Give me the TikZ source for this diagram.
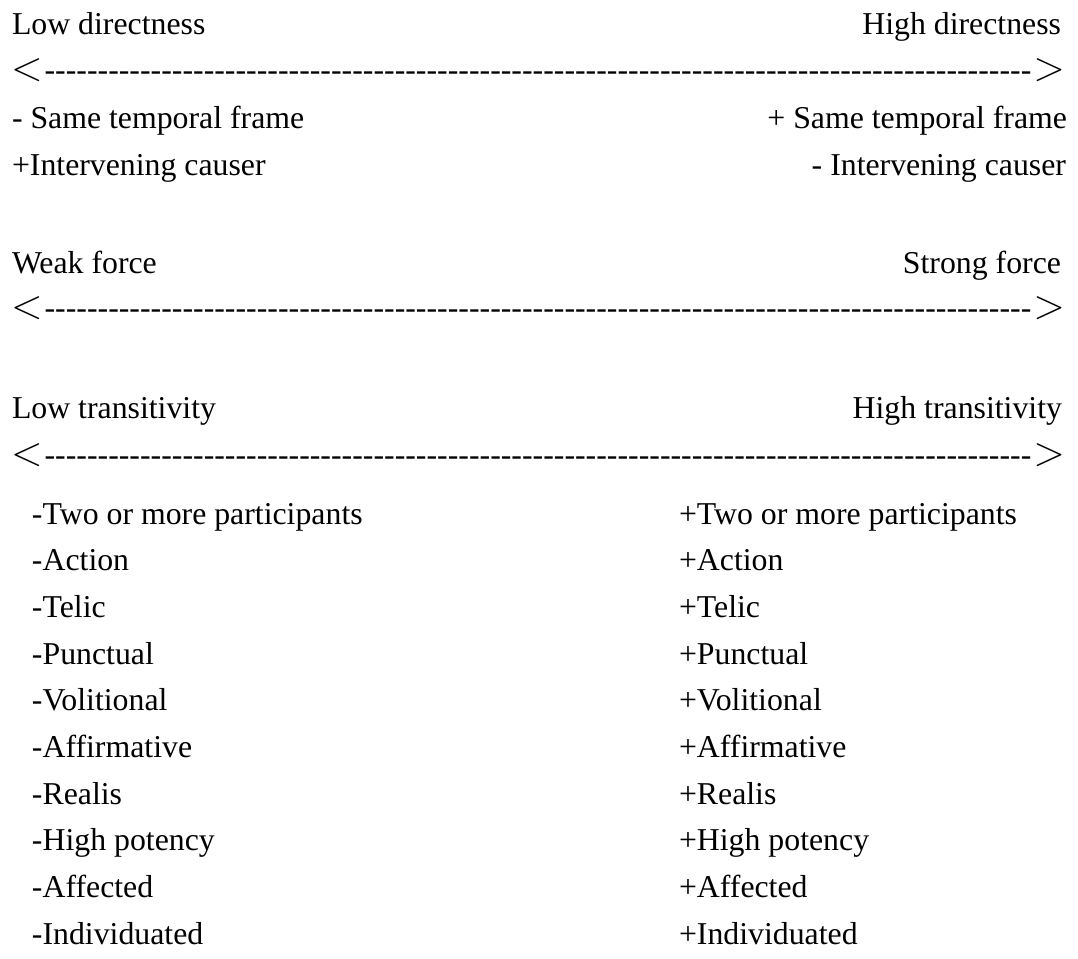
\documentclass[tikz,border=0pt]{standalone}
\usepackage{fontspec}
\setmainfont{Liberation Serif}

% typed scale: angle brackets with a run of hyphens between them
\newcommand{\angl}[1]{{\fontsize{21pt}{22pt}\selectfont$#1$}}
\newcommand{\scaleline}{\hbox to 527pt{\angl{<}\kern1pt\xleaders\hbox{-}\hfill-\kern1pt\angl{>}}}

\begin{document}
\begin{tikzpicture}[x=0.5pt,y=-0.5pt,
    every node/.style={inner sep=0pt,outer sep=0pt,font=\fontsize{15.9pt}{18pt}\selectfont},
    lft/.style={anchor=base west},
    rgt/.style={anchor=base east}]
  \useasboundingbox (0,0) rectangle (1078,959);

  % directness
  \node[lft] (lowdir)  at (12,34)   {Low directness};
  \node[rgt] (highdir) at (1061,34) {High directness};
  \node[lft] (dirline) at (11,80)   {\scaleline};
  \node[lft] (lowframe)  at (12,128)   {- Same temporal frame};
  \node[rgt] (highframe) at (1067,128) {+ Same temporal frame};
  \node[lft] (lowcauser)  at (12,175)   {+Intervening causer};
  \node[rgt] (highcauser) at (1066,175) {- Intervening causer};

  % force
  \node[lft] (weak)      at (12,273)   {Weak force};
  \node[rgt] (strong)    at (1061,273) {Strong force};
  \node[lft] (forceline) at (11,318)   {\scaleline};

  % transitivity
  \node[lft] (lowtrans)  at (12,418)   {Low transitivity};
  \node[rgt] (hightrans) at (1062,418) {High transitivity};
  \node[lft] (transline) at (11,465)   {\scaleline};
  \foreach \p [count=\i from 0] in {Two or more participants,Action,Telic,Punctual,
      Volitional,Affirmative,Realis,High potency,Affected,Individuated} {
    \node[lft] (tlow\i)  at (32,524+46.7*\i)  {-\p};
    \node[lft] (thigh\i) at (679,524+46.7*\i) {+\p};
  }
\end{tikzpicture}
\end{document}
